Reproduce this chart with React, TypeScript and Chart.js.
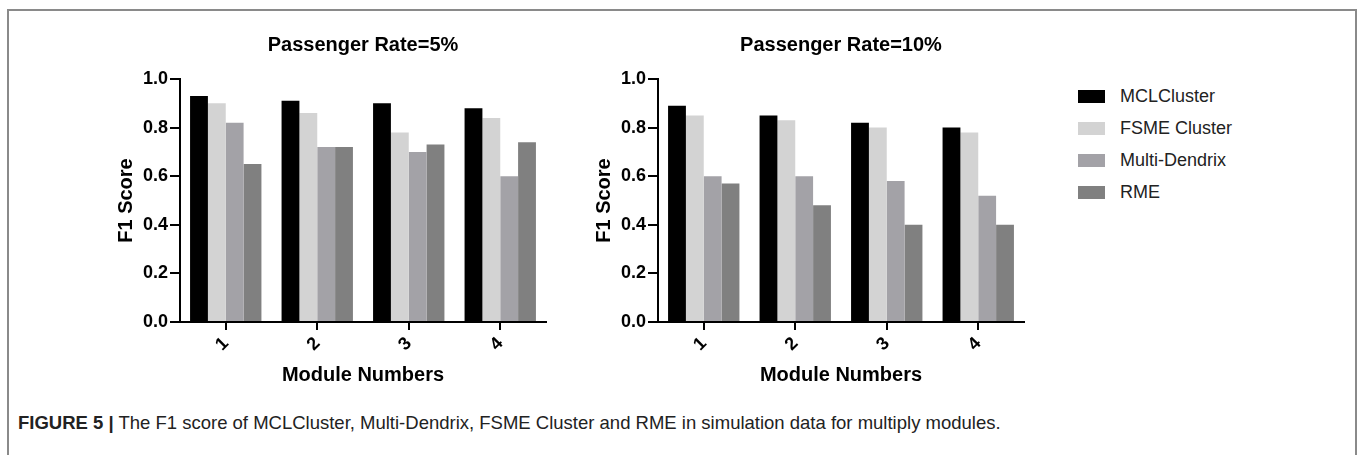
import React, { useEffect, useRef } from "react";
import { Chart, registerables } from "chart.js";

Chart.register(...registerables);

const categories = ["1", "2", "3", "4"];
const seriesNames = ["MCLCluster", "FSME Cluster", "Multi-Dendrix", "RME"];
const seriesColors = ["#000000", "#d3d3d3", "#a3a2a7", "#808080"];

// Passenger Rate = 5%
const rate5MCLCluster = [0.93, 0.91, 0.9, 0.88];
const rate5FSMECluster = [0.9, 0.86, 0.78, 0.84];
const rate5MultiDendrix = [0.82, 0.72, 0.7, 0.6];
const rate5RME = [0.65, 0.72, 0.73, 0.74];

// Passenger Rate = 10%
const rate10MCLCluster = [0.89, 0.85, 0.82, 0.8];
const rate10FSMECluster = [0.85, 0.83, 0.8, 0.78];
const rate10MultiDendrix = [0.6, 0.6, 0.58, 0.52];
const rate10RME = [0.57, 0.48, 0.4, 0.4];

const yTicks = [0, 0.2, 0.4, 0.6, 0.8, 1.0];

const FONT = "'Liberation Sans', Arial, Helvetica, sans-serif";
Chart.defaults.font.family = FONT;
Chart.defaults.color = "#000";

function BarPanel(props: { title: string; series: number[][]; left: number }) {
  const ref = useRef<HTMLCanvasElement>(null);
  useEffect(() => {
    const chart = new Chart(ref.current as HTMLCanvasElement, {
      type: "bar",
      data: {
        labels: categories,
        datasets: props.series.map((d, i) => ({
          label: seriesNames[i],
          data: d,
          backgroundColor: seriesColors[i],
          borderWidth: 0,
          barPercentage: 1,
          categoryPercentage: 0.78,
        })),
      },
      options: {
        animation: false,
        responsive: false,
        devicePixelRatio: 1,
        layout: { padding: { left: 0, right: 14, top: 0, bottom: 0 } },
        plugins: {
          legend: { display: false },
          tooltip: { enabled: false },
          title: {
            display: true,
            text: props.title,
            fullSize: false,
            color: "#000",
            font: { size: 20, weight: "bold", family: FONT },
            padding: { top: 13, bottom: 22 },
          },
        },
        scales: {
          x: {
            offset: true,
            grid: {
              offset: false,
              drawOnChartArea: false,
              drawTicks: true,
              tickLength: 8,
              color: "#000",
              lineWidth: 2,
            },
            border: { display: true, color: "#000", width: 2 },
            ticks: {
              color: "#000",
              font: { size: 18, weight: "bold", family: FONT },
              minRotation: 45,
              maxRotation: 45,
              padding: 3,
            },
            title: {
              display: true,
              text: "Module Numbers",
              color: "#000",
              font: { size: 20, weight: "bold", family: FONT },
              padding: { top: 0, bottom: 13 },
            },
            afterFit: (s: any) => {
              s.height = 78;
            },
          },
          y: {
            min: 0,
            max: 1,
            afterBuildTicks: (s: any) => {
              s.ticks = yTicks.map((v) => ({ value: v }));
            },
            ticks: {
              color: "#000",
              font: { size: 18, weight: "bold", family: FONT },
              padding: 2,
              callback: (v: any) => Number(v).toFixed(1),
            },
            grid: {
              drawOnChartArea: false,
              drawTicks: true,
              tickLength: 10,
              color: "#000",
              lineWidth: 2,
            },
            border: { display: true, color: "#000", width: 2 },
            title: {
              display: true,
              text: "F1 Score",
              color: "#000",
              font: { size: 20, weight: "bold", family: FONT },
              padding: { top: 14, bottom: 0 },
            },
            afterFit: (s: any) => {
              s.width = 80;
            },
          },
        },
      } as any,
    });
    return () => chart.destroy();
  }, []);
  return (
    <canvas
      ref={ref}
      width={460}
      height={380}
      style={{ position: "absolute", left: props.left, top: 20, width: 460, height: 380 }}
    />
  );
}

export default function App() {
  return (
    <div
      style={{
        position: "fixed",
        left: 0,
        top: 0,
        width: 1357,
        height: 455,
        overflow: "hidden",
        background: "#fff",
        fontFamily: FONT,
      }}
    >
      <div
        style={{
          position: "absolute",
          left: 7,
          top: 9,
          width: 1346,
          height: 470,
          border: "2px solid #8a8a8a",
          borderBottom: "none",
        }}
      />
      <BarPanel
        title="Passenger Rate=5%"
        series={[rate5MCLCluster, rate5FSMECluster, rate5MultiDendrix, rate5RME]}
        left={100}
      />
      <BarPanel
        title="Passenger Rate=10%"
        series={[rate10MCLCluster, rate10FSMECluster, rate10MultiDendrix, rate10RME]}
        left={578}
      />
      {seriesNames.map((name, i) => (
        <div
          key={name}
          style={{
            position: "absolute",
            left: 1078,
            top: 96 + i * 32.3 - 12,
            height: 24,
            display: "flex",
            alignItems: "center",
            fontSize: 18,
            color: "#222",
            whiteSpace: "nowrap",
          }}
        >
          <span
            style={{
              display: "inline-block",
              width: 27,
              height: 13,
              background: seriesColors[i],
              marginRight: 15,
            }}
          />
          <span>{name}</span>
        </div>
      ))}
      <div
        style={{
          position: "absolute",
          left: 18,
          top: 411,
          fontSize: 18.5,
          lineHeight: "24px",
          color: "#222",
          whiteSpace: "nowrap",
          fontFamily: FONT,
        }}
      >
        <b>FIGURE 5 |</b> The F1 score of MCLCluster, Multi-Dendrix, FSME Cluster and RME in
        simulation data for multiply modules.
      </div>
    </div>
  );
}
